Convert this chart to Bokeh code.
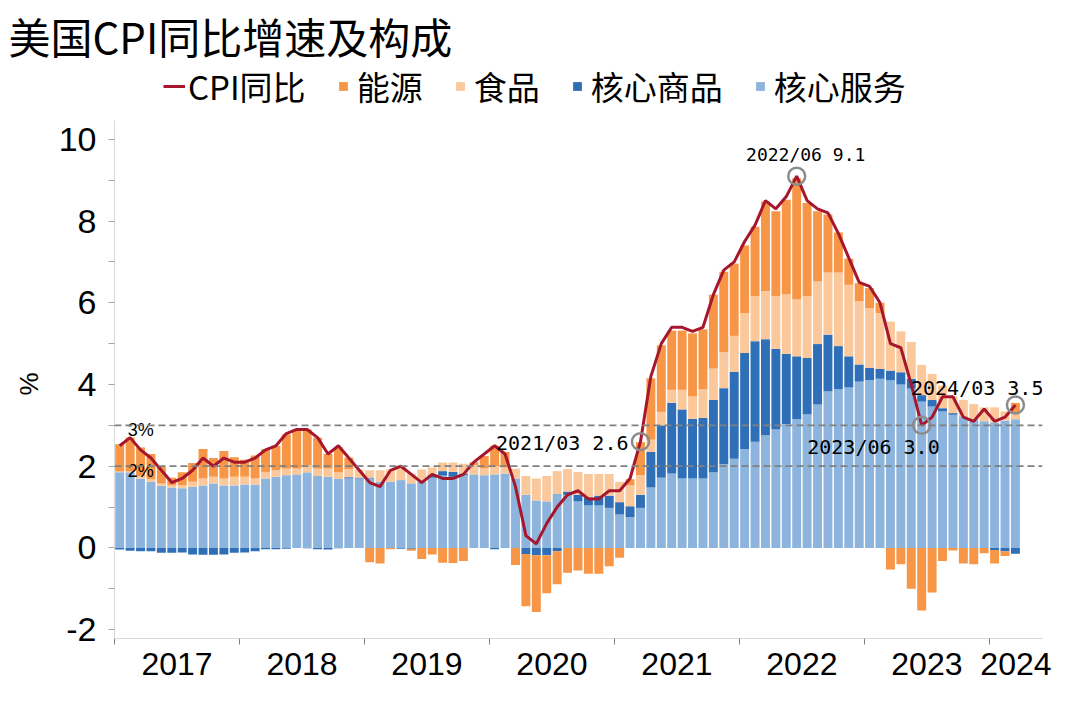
import numpy as np
from bokeh.plotting import figure
from bokeh.models import ColumnDataSource, Range1d, FixedTicker, Span, Legend, LegendItem, Title
from bokeh.embed import file_html
from bokeh.resources import INLINE
from bokeh.core.properties import value

# ---------------- data ----------------
years = ["2017", "2018", "2019", "2020", "2021", "2022", "2023", "2024"]
last_month = "2024/03"
months = [f"{y}/{m:02d}" for y in years for m in range(1, 13)]
months = months[: months.index(last_month) + 1]

cpi = [2.5, 2.7, 2.4, 2.2, 1.9, 1.6, 1.7, 1.9, 2.2, 2.0, 2.2, 2.1,
       2.1, 2.2, 2.4, 2.5, 2.8, 2.9, 2.9, 2.7, 2.3, 2.5, 2.2, 1.9,
       1.6, 1.5, 1.9, 2.0, 1.8, 1.6, 1.8, 1.7, 1.7, 1.8, 2.1, 2.3,
       2.5, 2.3, 1.5, 0.3, 0.1, 0.6, 1.0, 1.3, 1.4, 1.2, 1.2, 1.4,
       1.4, 1.7, 2.6, 4.2, 5.0, 5.4, 5.4, 5.3, 5.4, 6.2, 6.8, 7.0,
       7.5, 7.9, 8.5, 8.3, 8.6, 9.1, 8.5, 8.3, 8.2, 7.7, 7.1, 6.5,
       6.4, 6.0, 5.0, 4.9, 4.0, 3.0, 3.2, 3.7, 3.7, 3.2, 3.1, 3.4,
       3.1, 3.2, 3.5]

core_services = [1.85, 1.85, 1.70, 1.62, 1.52, 1.48, 1.46, 1.50, 1.53, 1.58, 1.53, 1.53,
                 1.55, 1.55, 1.70, 1.74, 1.78, 1.80, 1.85, 1.76, 1.74, 1.69, 1.70, 1.70,
                 1.70, 1.62, 1.62, 1.66, 1.58, 1.62, 1.72, 1.77, 1.74, 1.78, 1.80, 1.78,
                 1.80, 1.82, 1.70, 1.30, 1.16, 1.14, 1.32, 1.30, 1.14, 1.04, 1.04, 0.98,
                 0.82, 0.76, 0.98, 1.48, 1.72, 1.82, 1.70, 1.70, 1.70, 1.85, 2.05, 2.18,
                 2.42, 2.60, 2.76, 2.90, 3.03, 3.15, 3.27, 3.51, 3.83, 3.88, 3.93, 4.07,
                 4.11, 4.14, 4.10, 4.00, 3.90, 3.58, 3.46, 3.34, 3.26, 3.22, 3.15, 3.10,
                 3.07, 3.12, 3.15]

core_goods = [-0.04, -0.07, -0.08, -0.08, -0.12, -0.12, -0.11, -0.16, -0.17, -0.17, -0.16, -0.12,
              -0.11, -0.08, -0.03, -0.03, -0.02, 0.00, -0.01, -0.03, -0.04, -0.01, 0.03, 0.02,
              0.02, 0.00, 0.00, -0.02, -0.02, 0.00, 0.06, 0.11, 0.12, 0.04, 0.00, 0.00,
              -0.03, 0.00, 0.00, -0.15, -0.18, -0.18, -0.08, 0.08, 0.16, 0.20, 0.24, 0.30,
              0.30, 0.26, 0.32, 0.87, 1.28, 1.73, 1.69, 1.46, 1.48, 1.77, 1.86, 2.13,
              2.35, 2.46, 2.35, 1.97, 1.72, 1.54, 1.38, 1.48, 1.39, 1.06, 0.76, 0.42,
              0.30, 0.24, 0.24, 0.30, 0.24, 0.16, 0.16, 0.08, 0.04, 0.00, 0.00, 0.00,
              -0.05, -0.08, -0.14]

food = [0.02, 0.02, 0.06, 0.06, 0.06, 0.06, 0.08, 0.12, 0.17, 0.16, 0.17, 0.21,
        0.19, 0.15, 0.16, 0.16, 0.16, 0.14, 0.17, 0.18, 0.20, 0.16, 0.20, 0.20,
        0.18, 0.28, 0.30, 0.29, 0.24, 0.30, 0.19, 0.21, 0.23, 0.24, 0.22, 0.17,
        0.20, 0.15, 0.24, 0.46, 0.54, 0.62, 0.56, 0.55, 0.56, 0.57, 0.53, 0.53,
        0.50, 0.51, 0.48, 0.30, 0.33, 0.32, 0.48, 0.55, 0.70, 0.77, 0.88, 0.88,
        0.98, 1.10, 1.18, 1.29, 1.45, 1.39, 1.51, 1.53, 1.52, 1.80, 1.75, 1.55,
        1.46, 1.37, 1.20, 1.00, 0.90, 0.74, 0.64, 0.55, 0.41, 0.40, 0.37, 0.34,
        0.37, 0.22, 0.15]

energy = [0.67, 0.83, 0.70, 0.62, 0.40, 0.18, 0.31, 0.46, 0.72, 0.46, 0.67, 0.48,
          0.42, 0.56, 0.56, 0.60, 0.84, 0.96, 0.88, 0.76, 0.36, 0.61, 0.28, 0.00,
          -0.35, -0.38, -0.03, 0.05, -0.05, -0.27, -0.16, -0.36, -0.37, -0.32, 0.08, 0.30,
          0.50, 0.38, -0.42, -1.28, -1.39, -0.93, -0.81, -0.61, -0.55, -0.63, -0.63, -0.45,
          -0.24, 0.15, 0.81, 1.50, 1.63, 1.45, 1.45, 1.54, 1.47, 1.81, 1.97, 1.77,
          1.65, 1.70, 2.19, 2.08, 2.32, 2.97, 2.28, 1.72, 1.42, 0.98, 0.64, 0.44,
          0.49, 0.25, -0.53, -0.40, -1.00, -1.53, -1.09, -0.32, -0.06, -0.38, -0.40, -0.13,
          -0.33, -0.12, 0.25]

y_ticks = [-2, 0, 2, 4, 6, 8, 10]
target_levels = [2, 3]
target_labels = ["2%", "3%"]
highlight_months = ["2021/03", "2022/06", "2023/06", "2024/03"]

# ---------------- styles / layout ----------------
C_ENERGY = "#F79646"
C_FOOD = "#FBC89C"
C_GOODS = "#2E6FB8"
C_SERV = "#8DB4DD"
C_CPI = "#A6172D"
CJK = "Noto Sans CJK SC"
LAT = "Liberation Sans"

W, H = 1064, 692
BL, BR, BT, BB = 106, 22, 58, 54
FRAME_H = H - BT - BB          # expected frame height in px
PX_PER_UNIT = 41.5
ZERO_FROM_TOP = 546 - BT       # px from frame top to y=0 (figure coords)
y_hi = ZERO_FROM_TOP / PX_PER_UNIT
y_lo = y_hi - FRAME_H / PX_PER_UNIT
y_axis_top = 10.45
x = np.arange(len(months))
x_end = 88.6

p = figure(width=W, height=H, output_backend="svg", toolbar_location=None, title=None,
           x_range=Range1d(-0.5, x_end), y_range=Range1d(y_lo, y_hi),
           min_border_left=BL, min_border_right=BR, min_border_top=BT, min_border_bottom=BB,
           background_fill_color="white", border_fill_color="white")
p.outline_line_color = None
p.xgrid.visible = False
p.ygrid.visible = False

# stacked bars (positives stack up, negatives stack down)
series = [("核心服务", core_services, C_SERV), ("核心商品", core_goods, C_GOODS),
          ("食品", food, C_FOOD), ("能源", energy, C_ENERGY)]
pos = np.zeros(len(months))
neg = np.zeros(len(months))
for name, vals, color in series:
    v = np.array(vals, dtype=float)
    bottom = np.where(v >= 0, pos, neg)
    top = bottom + v
    pos = np.where(v >= 0, top, pos)
    neg = np.where(v < 0, top, neg)
    src = ColumnDataSource(dict(x=x, bottom=bottom, top=top))
    p.vbar(x="x", bottom="bottom", top="top", width=0.86, source=src,
           fill_color=color, line_color=None)

# CPI line
cpi_r = p.line(x, cpi, line_color=C_CPI, line_width=3)

# reference lines 2% / 3%
for lvl in target_levels:
    p.add_layout(Span(location=lvl, dimension="width", line_color="#808080",
                      line_dash="7 4", line_width=1.8))
p.text(x=[0] * len(target_levels), y=target_levels, text=target_labels,
       x_offset=21, y_offset=5, text_align="center", text_baseline="middle",
       text_font=value(LAT), text_font_size="18px", text_color="black")

# highlighted points
hi_idx = [months.index(m) for m in highlight_months]
hi_val = [cpi[i] for i in hi_idx]
hi_txt = [f"{m} {v:.1f}" for m, v in zip(highlight_months, hi_val)]
p.scatter(hi_idx, hi_val, marker="circle", size=17, fill_color=None,
          line_color="#8C8C8C", line_width=2.5)
hsrc = ColumnDataSource(dict(x=hi_idx, y=hi_val, text=hi_txt,
                             align=["right", "center", "right", "right"],
                             fs=["20px", "18px", "20px", "20px"],
                             xo=[-12, 9, 18, 28], yo=[1, -22, 22, -17]))
p.text(x="x", y="y", text="text", source=hsrc, text_align="align", x_offset="xo",
       y_offset="yo", text_baseline="middle", text_font=value("DejaVu Sans Mono"),
       text_font_size="fs", text_color="black")

# axes
yax = p.yaxis[0]
yax.bounds = (y_lo, y_axis_top)
yax.ticker = FixedTicker(ticks=y_ticks, minor_ticks=[-1, 1, 3, 5, 7, 9])
yax.major_label_overrides = {t: str(t) for t in y_ticks}
yax.axis_line_color = "#D9D9D9"
yax.major_tick_line_color = "#A6A6A6"
yax.minor_tick_line_color = "#A6A6A6"
yax.major_tick_out = 6
yax.major_tick_in = 0
yax.minor_tick_out = 6
yax.minor_tick_in = 0
yax.major_label_text_font = LAT
yax.major_label_text_font_size = "34px"
yax.major_label_text_color = "black"
yax.major_label_standoff = 12
yax.axis_label = None

# "%" unit label on the far left, placed beside the centre of the value axis
p.add_layout(Title(text="%", align="left", offset=243, standoff=23,
                   text_font=LAT, text_font_size="26px", text_font_style="normal",
                   text_color="black"), "left")

starts = [months.index(f"{y}/01") - 0.5 for y in years]
ends = starts[1:] + [x_end]
centers = [(a + b) / 2 for a, b in zip(starts, ends)]
xax = p.xaxis[0]
xax.ticker = FixedTicker(ticks=centers, minor_ticks=starts)
xax.major_label_overrides = {c: y for c, y in zip(centers, years)}
xax.axis_label = None
xax.axis_line_color = "#D9D9D9"
xax.major_tick_out = 0
xax.major_tick_in = 0
xax.minor_tick_out = 6
xax.minor_tick_in = 0
xax.minor_tick_line_color = "#808080"
xax.major_label_text_font = LAT
xax.major_label_text_font_size = "32px"
xax.major_label_text_color = "black"
xax.major_label_text_line_height = 0.8
xax.major_label_standoff = 8

# legend (dummy square markers for bar series), in the strip at the top of the frame
dummy = {}
for name, vals, color in series:
    dummy[name] = p.scatter(x=[np.nan], y=[np.nan], marker="square",
                            fill_color=color, line_color=None)
items = [LegendItem(label="CPI同比", renderers=[cpi_r]),
         LegendItem(label="能源", renderers=[dummy["能源"]]),
         LegendItem(label="食品", renderers=[dummy["食品"]]),
         LegendItem(label="核心商品", renderers=[dummy["核心商品"]]),
         LegendItem(label="核心服务", renderers=[dummy["核心服务"]])]
legend = Legend(items=items, orientation="horizontal", location=(49, FRAME_H - 52),
                glyph_width=22, glyph_height=22, label_standoff=3, spacing=26,
                padding=0, margin=0, border_line_color=None,
                background_fill_alpha=0, label_text_font=CJK, label_text_font_size="33px",
                label_text_color="black")
p.add_layout(legend, "center")

p.add_layout(Title(text="美国CPI同比增速及构成", align="left", offset=-106, standoff=4,
                   text_font=CJK, text_font_size="42px", text_font_style="normal",
                   text_color="black"), "above")

open("out.html", "w").write(file_html(p, INLINE))
